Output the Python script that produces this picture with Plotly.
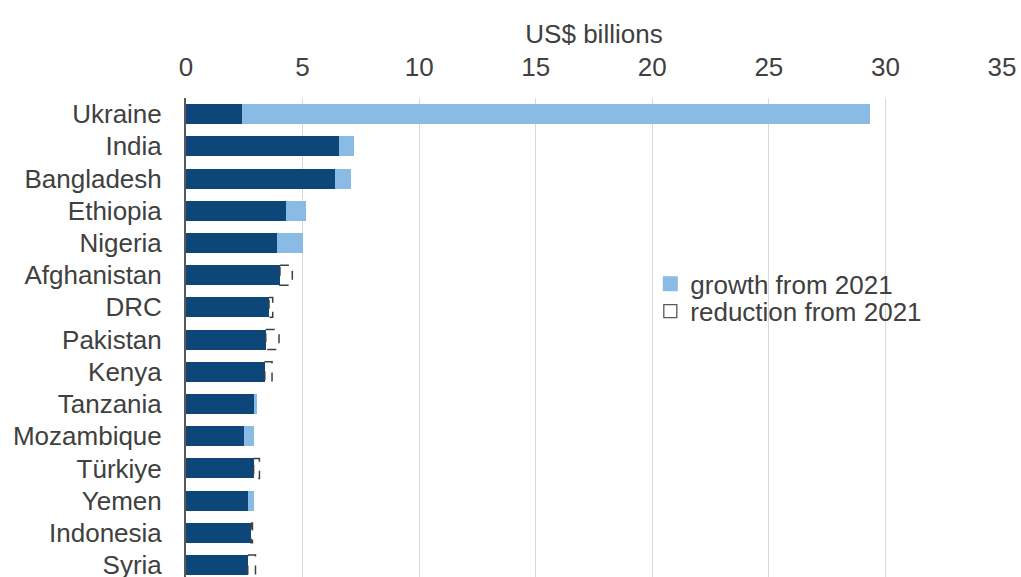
import plotly.graph_objects as go

countries = ["Ukraine", "India", "Bangladesh", "Ethiopia", "Nigeria", "Afghanistan", "DRC",
             "Pakistan", "Kenya", "Tanzania", "Mozambique", "Türkiye", "Yemen", "Indonesia", "Syria"]
values_2021 = [2.40, 6.57, 6.40, 4.29, 3.92, 4.56, 3.72, 3.99, 3.69, 2.90, 2.49, 3.15, 2.67, 2.85, 2.98]
values_2022 = [29.35, 7.20, 7.08, 5.16, 5.02, 4.03, 3.56, 3.42, 3.38, 3.06, 2.93, 2.90, 2.90, 2.79, 2.65]
x_ticks = [0, 5, 10, 15, 20, 25, 30, 35]

DARK = "#0d4679"
LIGHT = "#8abbe5"
TXT = "#404040"
FONT = "Liberation Sans, Arial, sans-serif"
FS = 26
BW = 0.62

ypos = list(range(len(countries)))
base = [min(a, b) for a, b in zip(values_2021, values_2022)]
growth = [max(b - a, 0) for a, b in zip(values_2021, values_2022)]

fig = go.Figure()
fig.add_trace(go.Bar(y=ypos, x=base, orientation="h", marker=dict(color=DARK, line=dict(width=0)),
                     width=BW, showlegend=False, hoverinfo="skip"))
fig.add_trace(go.Bar(y=ypos, x=growth, orientation="h", marker=dict(color=LIGHT, line=dict(width=0)),
                     width=BW, showlegend=False, name="growth from 2021"))

rx, ry = [], []
for i, (a, b) in enumerate(zip(values_2021, values_2022)):
    if a > b:
        rx += [b, a, a, b, b, None]
        ry += [i - BW / 2, i - BW / 2, i + BW / 2, i + BW / 2, i - BW / 2, None]
fig.add_trace(go.Scatter(x=rx, y=ry, mode="lines",
                         line=dict(color=TXT, width=1.5, dash="dash"), showlegend=False,
                         hoverinfo="skip"))

# legend entries
fig.add_trace(go.Scatter(x=[None], y=[None], mode="markers", name="growth from 2021",
                         marker=dict(symbol="square", size=15, color=LIGHT), legend="legend"))
fig.add_trace(go.Scatter(x=[None], y=[None], mode="markers", name="reduction from 2021",
                         marker=dict(symbol="square-open", size=13, color="#595959",
                                     line=dict(width=1.3, color="#595959")),
                         legend="legend2"))

leg_common = dict(xanchor="left", yanchor="middle", bgcolor="rgba(0,0,0,0)",
                  font=dict(size=FS, color=TXT), itemwidth=30)

fig.update_layout(
    width=1021, height=577,
    margin=dict(l=186, r=19, t=98, b=0),
    paper_bgcolor="white", plot_bgcolor="white",
    barmode="stack", bargap=0.38,
    font=dict(family=FONT, size=FS, color=TXT),
    legend=dict(x=0.569, y=0.612, **leg_common),
    legend2=dict(x=0.569, y=0.555, **leg_common),
    xaxis=dict(side="top", range=[0, 35], tickvals=x_ticks, showgrid=True, gridcolor="#d9d9d9",
               gridwidth=1.3, zeroline=False, showline=False, ticks="", automargin=False,
               ticklabelstandoff=16, ticklabeloverflow="allow",
               tickfont=dict(size=FS, color=TXT),
               title=dict(text="US$ billions", font=dict(size=FS, color=TXT), standoff=0)),
    yaxis=dict(range=[14.37, -0.5], tickvals=ypos, ticktext=countries, showgrid=False,
               zeroline=False, showline=True, linecolor="#595959", linewidth=2, ticks="",
               automargin=False, ticklabelstandoff=17, ticklabeloverflow="allow",
               tickfont=dict(size=FS, color=TXT)),
)

fig.write_html("out.html", config={"displayModeBar": False},
               post_script="document.body.style.margin='0';document.body.style.overflow='hidden';")
